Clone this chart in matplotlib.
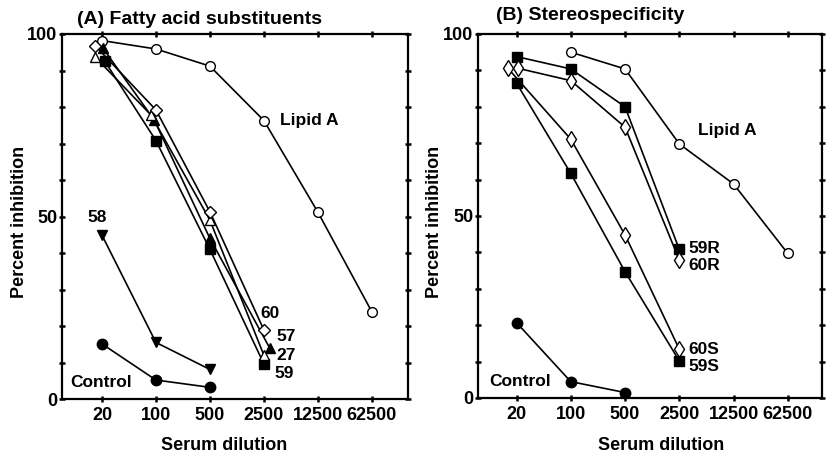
import matplotlib
matplotlib.use("Agg")
import matplotlib.pyplot as plt
import numpy as np

plt.rcParams["font.family"] = ["Liberation Sans", "DejaVu Sans"]
plt.rcParams["font.weight"] = "bold"

# serum dilutions (x axis, log base 5 steps)
dilution = [20, 100, 500, 2500, 12500, 62500]

# (A) fatty acid substituents
a_lipid = [98.2, 95.9, 91.2, 76.3, 51.2, 23.9]
a_60 = [96.7, 79.2, 51.3, 18.9]
a_57 = [96.1, 76.4, 44.0, 13.9]
a_27 = [93.6, 77.8, 49.0, 12.0]
a_59 = [92.6, 70.8, 41.0, 9.6]
a_58 = [44.9, 15.5, 8.1]
a_control = [15.1, 5.2, 3.2]

# (B) stereospecificity
b_lipid = [95.0, 90.4, 69.8, 58.8, 39.7]
b_59r = [93.8, 90.4, 80.0, 40.8]
b_60r = [90.6, 87.2, 74.4, 37.9]
b_60s = [90.6, 71.1, 44.8, 13.4]
b_59s = [86.5, 61.7, 34.7, 10.2]
b_control = [20.7, 4.5, 1.5]

fig = plt.figure(figsize=(8.26, 4.57), dpi=100)
axA = fig.add_axes([62 / 826, 58 / 457, 346 / 826, 365 / 457])
axB = fig.add_axes([478 / 826, 59 / 457, 344 / 826, 364 / 457])


def shifted(xs, shift):
    # small horizontal dodge (in log5 steps) so overlapping symbols stay visible
    return np.array(xs, dtype=float) * 5.0 ** np.array(shift)


def series(ax, xs, ys, marker, filled, ms=7, shift=None):
    xs = np.array(xs[:len(ys)], dtype=float)
    if shift is not None:
        xs = shifted(xs, shift)
    ax.plot(xs, ys, color="black", lw=1.2, marker=marker, ms=ms,
            mfc="black" if filled else "white", mec="black", mew=1.0,
            clip_on=False, zorder=3)


# panel A
series(axA, dilution, a_lipid, "o", False)
series(axA, dilution, a_59, "s", True, shift=[0.05, 0, 0, 0])
series(axA, dilution, a_57, "^", True, ms=7.5, shift=[0.02, -0.03, 0, 0.11])
series(axA, dilution, a_27, "^", False, ms=7.5, shift=[-0.12, -0.09, 0, 0])
series(axA, dilution, a_60, "D", False, ms=6, shift=[-0.12, 0, 0, 0])
series(axA, dilution, a_58, "v", True, ms=7.5)
series(axA, dilution, a_control, "o", True, ms=7.5)

# panel B
series(axB, dilution[1:], b_lipid, "o", False)
series(axB, dilution, b_59r, "s", True, ms=7.5)
series(axB, dilution, b_60r, "d", False, ms=8, shift=[0.02, 0, 0, 0])
series(axB, dilution, b_60s, "d", False, ms=8, shift=[-0.16, 0, 0, 0])
series(axB, dilution, b_59s, "s", True, ms=7.5)
series(axB, dilution, b_control, "o", True, ms=7.5)

for ax, lo, hi in [(axA, -0.74, 5.67), (axB, -0.71, 5.63)]:
    ax.set_xscale("log")
    ax.set_xlim(20 * 5.0 ** lo, 20 * 5.0 ** hi)
    ax.set_ylim(0, 100)
    ax.set_xticks(dilution)
    ax.set_xticklabels([str(d) for d in dilution])
    ax.xaxis.set_minor_locator(matplotlib.ticker.NullLocator())
    ax.set_yticks([0, 50, 100])
    ax.set_yticks(np.arange(0, 101, 10), minor=True)
    for s in ax.spines.values():
        s.set_linewidth(1.6)
    ax.tick_params(which="both", direction="inout", length=5, width=1.8,
                   top=True, right=True, labelsize=13)
    ax.tick_params(axis="x", pad=3)
    ax.tick_params(axis="y", pad=1)
    for lab in ax.get_xticklabels() + ax.get_yticklabels():
        lab.set_fontweight("bold")

txt = dict(fontsize=12.5, fontweight="bold", va="center", ha="left")
axA.text(4050, 76.4, "Lipid A", **txt)
axA.text(17.2, 49.6, "58", ha="center", va="center", fontsize=12.5, fontweight="bold")
axA.text(7.7, 4.4, "Control", **txt)
axA.text(2220, 23.3, "60", **txt)
axA.text(3680, 17.0, "57", **txt)
axA.text(3680, 12.0, "27", **txt)
axA.text(3450, 7.1, "59", **txt)

axB.text(4390, 73.4, "Lipid A", **txt)
axB.text(3270, 41.1, "59R", **txt)
axB.text(3270, 36.3, "60R", **txt)
axB.text(3270, 13.2, "60S", **txt)
axB.text(3270, 8.6, "59S", **txt)
axB.text(8.9, 4.5, "Control", **txt)

fig.text(77 / 826, 1 - 19 / 457, "(A) Fatty acid substituents", fontsize=14,
         fontweight="bold", ha="left", va="center")
fig.text(496 / 826, 1 - 15 / 457, "(B) Stereospecificity", fontsize=14,
         fontweight="bold", ha="left", va="center")
fig.text(20 / 826, 1 - 222 / 457, "Percent inhibition", rotation=90, fontsize=13,
         fontweight="bold", ha="center", va="center")
fig.text(435 / 826, 1 - 222 / 457, "Percent inhibition", rotation=90, fontsize=13,
         fontweight="bold", ha="center", va="center")
fig.text(224 / 826, 1 - 445 / 457, "Serum dilution", fontsize=13,
         fontweight="bold", ha="center", va="center")
fig.text(661 / 826, 1 - 445 / 457, "Serum dilution", fontsize=13,
         fontweight="bold", ha="center", va="center")

fig.savefig("out.png", dpi=100)
